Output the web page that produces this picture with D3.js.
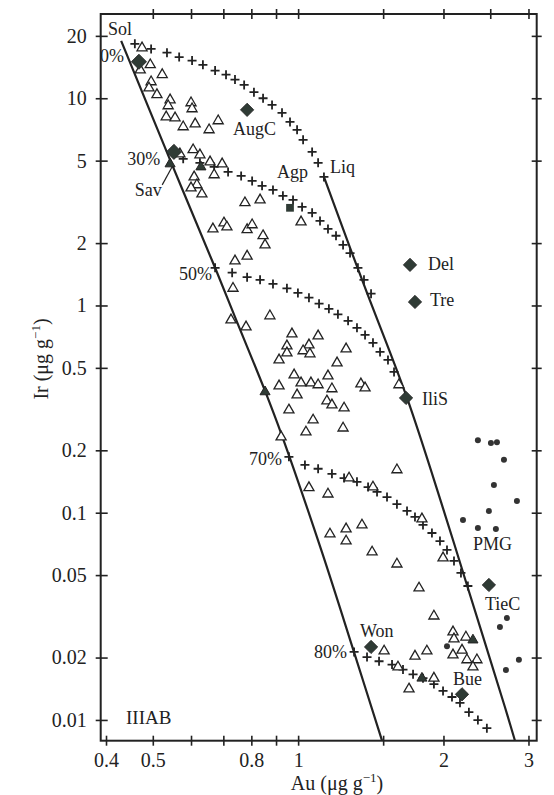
<!DOCTYPE html>
<html>
<head>
<meta charset="utf-8">
<script src="https://cdn.jsdelivr.net/npm/d3@7"></script>
<style>
body { margin: 0; background: #fff; }
text { font-family: "Liberation Serif", "DejaVu Serif", serif; fill: #222; }
</style>
</head>
<body>
<svg id="chart" width="554" height="795"></svg>
<script>
// solidus / liquidus lines (Au, Ir)
var solidus = [[0.43,18.9],[0.543,5.04],[0.673,1.52],[0.747,0.833],[0.854,0.387],[0.926,0.235],[1.12,0.0647],[1.305,0.0213],[1.492,0.00794]];
var liquidus = [[1.131,4.17],[1.293,1.79],[1.389,1.15],[1.681,0.358],[1.996,0.105],[2.237,0.0448],[2.681,0.01155],[2.813,0.00794]];

// crystallization trends (crosses)
var trend0 = [[0.459,18.3],[0.496,17.3],[0.535,16.6],[0.567,15.8],[0.603,15.2],[0.635,14.5],[0.673,13.6],[0.709,13.0],[0.740,12.3],[0.773,11.6],[0.810,10.7],[0.846,10.0],[0.883,9.29],[0.926,8.50],[0.962,7.69],[0.995,7.04],[1.024,6.30],[1.069,5.51],[1.10,4.88],[1.131,4.17]];
var trend30 = [[0.578,5.10],[0.626,4.88],[0.670,4.66],[0.716,4.41],[0.762,4.22],[0.803,3.99],[0.842,3.78],[0.887,3.61],[0.930,3.38],[0.976,3.23],[1.019,2.99],[1.069,2.80],[1.110,2.56],[1.153,2.34],[1.198,2.17],[1.239,1.96],[1.281,1.79],[1.330,1.52],[1.369,1.33],[1.416,1.14]];
var trend50 = [[0.673,1.52],[0.730,1.44],[0.784,1.37],[0.834,1.33],[0.887,1.27],[0.948,1.21],[0.999,1.15],[1.053,1.09],[1.105,1.02],[1.158,0.963],[1.209,0.906],[1.269,0.843],[1.324,0.780],[1.376,0.721],[1.429,0.660],[1.478,0.597],[1.535,0.546],[1.580,0.478]];
var trend70 = [[0.957,0.186],[1.033,0.170],[1.10,0.163],[1.175,0.154],[1.245,0.147],[1.324,0.141],[1.396,0.133],[1.457,0.126],[1.528,0.119],[1.602,0.110],[1.681,0.102],[1.746,0.0954],[1.814,0.0873],[1.893,0.0798],[1.967,0.0730],[2.034,0.0661],[2.103,0.0585],[2.174,0.0512],[2.247,0.0443]];
var trend80 = [[1.306,0.0213],[1.389,0.0201],[1.471,0.0192],[1.565,0.0185],[1.649,0.0175],[1.730,0.0166],[1.814,0.0159],[1.911,0.0149],[1.996,0.0138],[2.083,0.0129],[2.164,0.0121],[2.258,0.0109],[2.357,0.00998],[2.460,0.00913]];

// IIIAB irons (open triangles)
var openTriangles = [
  [0.475,17.5],[0.494,14.5],[0.471,13.7],[0.523,13.0],[0.496,12.0],[0.491,11.2],[0.510,10.4],[0.543,9.82],[0.538,9.19],[0.600,9.50],[0.603,8.89],[0.533,8.13],[0.556,8.04],[0.578,7.28],[0.612,7.52],[0.654,7.04],[0.683,7.78],
  [0.569,5.39],[0.606,5.64],[0.626,5.33],[0.657,4.93],[0.696,4.82],[0.670,4.27],[0.609,4.17],[0.617,3.82],[0.600,3.69],[0.632,3.45],[0.776,3.13],[0.834,3.23],[1.014,2.53],
  [0.666,2.34],[0.702,2.50],[0.712,2.39],[0.784,2.32],[0.803,2.45],[0.846,2.17],[0.854,1.96],[0.740,1.64],[0.784,1.73],[0.733,1.21],[0.726,0.852],[0.780,0.788],[0.874,0.891],
  [0.971,0.729],[1.10,0.713],[0.948,0.638],[1.053,0.645],[1.024,0.604],[0.948,0.590],[1.058,0.584],[1.257,0.617],[0.913,0.546],[1.204,0.528],[0.981,0.462],[1.153,0.457],[1.014,0.423],[1.063,0.423],[1.10,0.414],[1.175,0.396],[1.349,0.418],[1.376,0.400],[0.913,0.409],[0.995,0.370],[1.147,0.346],[1.175,0.331],[1.245,0.320],[0.957,0.313],[1.074,0.280],[1.038,0.245],[1.239,0.256],[0.922,0.232],[1.617,0.414],
  [1.602,0.161],[1.275,0.147],[1.429,0.133],[1.053,0.132],[1.153,0.123],[1.805,0.0933],[1.164,0.0789],[1.257,0.0835],[1.257,0.0730],[1.356,0.0872],[1.423,0.0646],[1.602,0.0565],[1.996,0.0605],[1.780,0.0433],[1.911,0.0317],[2.093,0.0266],[2.103,0.0246],[2.226,0.0251],[2.093,0.0206],[2.185,0.0217],[2.237,0.0195],[2.346,0.0195],[2.302,0.0180],[1.848,0.0215],[1.746,0.0203],[1.507,0.0215],[1.610,0.0180],[1.911,0.0159],[1.697,0.0141]
];
var filledTriangles = [[0.543,4.82],[0.629,4.66],[0.854,0.383],[2.302,0.0243],[1.805,0.0159]];

// named meteorites (diamonds), Agp (square), pallasites (dots)
var diamonds = [[0.468,15.0],[0.553,5.51],[0.784,8.79],[1.705,1.57],[1.746,1.04],[1.673,0.358],[2.484,0.0448],[1.416,0.0225],[2.185,0.0133]];
var squares = [[0.962,2.96]];
var pmgDots = [[2.357,0.224],[2.508,0.217],[2.581,0.219],[2.669,0.180],[2.544,0.136],[2.839,0.114],[2.484,0.102],[2.195,0.0922],[2.357,0.0844],[2.568,0.0835],[2.707,0.0310],[2.618,0.0281],[2.034,0.0227],[2.866,0.0195],[2.694,0.0174]];

// labels: text, anchor point (Au, Ir), text-anchor
var labelText = ["Sol","0%","30%","50%","70%","80%","AugC","Agp","Liq","Sav","Del","Tre","IliS","PMG","TieC","Won","Bue","IIIAB"];
var labelAt = [[0.404,20.2],[0.436,15.0],[0.518,4.77],[0.663,1.33],[0.926,0.170],[1.263,0.0199],[0.733,6.66],[0.904,4.13],[1.164,4.36],[0.459,3.38],[1.857,1.48],[1.875,0.996],[1.805,0.331],[2.302,0.0661],[2.438,0.0339],[1.343,0.0251],[2.093,0.0147],[0.440,0.00954]];
var labelAnchor = ["start","end","end","end","end","end","start","start","start","start","start","start","start","start","start","start","start","start"];
var savPointer = [[0.523,3.82],[0.548,4.66]];

// axis ticks
var xTicksBottom = [0.4,0.5,0.6,0.7,0.8,0.9,1,1.5,2,3];
var xTicksTop = [0.5,0.6,0.7,0.8,0.9,1,1.5,2,2.5,3];
var xTickLabels = [0.4,0.5,0.8,1,2,3];
var yTicks = [20,10,5,2,1,0.5,0.2,0.1,0.05,0.02,0.01];

var plotL = 100.7, plotR = 536.7, plotT = 14, plotB = 740.7;
var ink = "#222", dark = "#2f3b35";

var svg = d3.select("#chart");

var x = d3.scaleLog().domain([0.39, 3.12]).range([plotL, plotR]);
var y = d3.scaleLog().domain([0.00794, 25.5]).range([plotB, plotT]);

// frame
svg.append("rect")
  .attr("x", plotL).attr("y", plotT)
  .attr("width", plotR - plotL).attr("height", plotB - plotT)
  .attr("fill", "none").attr("stroke", ink).attr("stroke-width", 2);

// ticks crossing the frame
function fmt(d) { return xTickLabels.indexOf(d) >= 0 ? String(d) : ""; }

var bAxis = svg.append("g").attr("transform", "translate(0," + plotB + ")")
  .call(d3.axisBottom(x).tickValues(xTicksBottom).tickFormat(fmt).tickSize(5).tickPadding(7));
var tAxis = svg.append("g").attr("transform", "translate(0," + plotT + ")")
  .call(d3.axisTop(x).tickValues(xTicksTop).tickFormat("").tickSize(5));
var lAxis = svg.append("g").attr("transform", "translate(" + plotL + ",0)")
  .call(d3.axisLeft(y).tickValues(yTicks).tickFormat(function(d) { return String(d); }).tickSize(5).tickPadding(9));
var rAxis = svg.append("g").attr("transform", "translate(" + plotR + ",0)")
  .call(d3.axisRight(y).tickValues(yTicks).tickFormat("").tickSize(5));

[bAxis, tAxis, lAxis, rAxis].forEach(function(g) {
  g.select(".domain").remove();
  g.selectAll(".tick line").attr("stroke", ink).attr("stroke-width", 1.6);
  g.selectAll(".tick text").attr("font-size", 20).attr("font-family", "Liberation Serif").attr("fill", ink);
});
bAxis.selectAll(".tick line").attr("y1", -5);
tAxis.selectAll(".tick line").attr("y1", 5);
lAxis.selectAll(".tick line").attr("x1", 7);
rAxis.selectAll(".tick line").attr("x1", -5);

// solidus and liquidus
var line = d3.line()
  .x(function(d) { return x(d[0]); })
  .y(function(d) { return y(d[1]); })
  .curve(d3.curveCatmullRom);

[solidus, liquidus].forEach(function(s) {
  svg.append("path").datum(s)
    .attr("d", line)
    .attr("fill", "none").attr("stroke", ink).attr("stroke-width", 2.2);
});

svg.append("path").datum(savPointer)
  .attr("d", d3.line().x(function(d) { return x(d[0]); }).y(function(d) { return y(d[1]); }))
  .attr("stroke", ink).attr("stroke-width", 1.2);

// crosses
var crossPath = "M-4.5,0H4.5M0,-4.5V4.5";
[trend0, trend30, trend50, trend70, trend80].forEach(function(t) {
  svg.append("g").selectAll("path")
    .data(t)
    .enter().append("path")
    .attr("transform", function(d) { return "translate(" + x(d[0]) + "," + y(d[1]) + ")"; })
    .attr("d", crossPath)
    .attr("stroke", ink).attr("stroke-width", 1.8);
});

// triangles
var tri = d3.symbol().type(d3.symbolTriangle).size(44);
svg.append("g").selectAll("path")
  .data(openTriangles)
  .enter().append("path")
  .attr("transform", function(d) { return "translate(" + x(d[0]) + "," + y(d[1]) + ")"; })
  .attr("d", tri)
  .attr("fill", "#fff").attr("stroke", ink).attr("stroke-width", 1.3);

svg.append("g").selectAll("path")
  .data(filledTriangles)
  .enter().append("path")
  .attr("transform", function(d) { return "translate(" + x(d[0]) + "," + y(d[1]) + ")"; })
  .attr("d", tri)
  .attr("fill", dark).attr("stroke", ink).attr("stroke-width", 1);

// pallasite dots
svg.append("g").selectAll("circle")
  .data(pmgDots)
  .enter().append("circle")
  .attr("cx", function(d) { return x(d[0]); })
  .attr("cy", function(d) { return y(d[1]); })
  .attr("r", 3)
  .attr("fill", "#333");

// diamonds (the 0% and 30% ones are drawn larger) and square
svg.append("g").selectAll("path")
  .data(diamonds)
  .enter().append("path")
  .attr("transform", function(d) { return "translate(" + x(d[0]) + "," + y(d[1]) + ") rotate(45)"; })
  .attr("d", function(d, i) { return d3.symbol().type(d3.symbolSquare).size(i < 2 ? 115 : 88)(); })
  .attr("fill", dark).attr("stroke", ink).attr("stroke-width", 0.8);

svg.append("g").selectAll("path")
  .data(squares)
  .enter().append("path")
  .attr("transform", function(d) { return "translate(" + x(d[0]) + "," + y(d[1]) + ")"; })
  .attr("d", d3.symbol().type(d3.symbolSquare).size(60))
  .attr("fill", dark);

// labels
svg.append("g").selectAll("text")
  .data(labelText)
  .enter().append("text")
  .attr("x", function(d, i) { return x(labelAt[i][0]); })
  .attr("y", function(d, i) { return y(labelAt[i][1]); })
  .attr("text-anchor", function(d, i) { return labelAnchor[i]; })
  .attr("font-size", function(d, i) { return i === 17 ? 19 : 18; })
  .text(function(d) { return d; });

// axis titles
var xt = svg.append("text")
  .attr("x", 337).attr("y", 790)
  .attr("text-anchor", "middle").attr("font-size", 20);
xt.append("tspan").text("Au (\u03bcg g");
xt.append("tspan").attr("font-size", 13).attr("dy", -8).text("\u22121");
xt.append("tspan").attr("dy", 8).text(")");

var yt = svg.append("text")
  .attr("transform", "translate(48,359) rotate(-90)")
  .attr("text-anchor", "middle").attr("font-size", 20);
yt.append("tspan").text("Ir (\u03bcg g");
yt.append("tspan").attr("font-size", 13).attr("dy", -8).text("\u22121");
yt.append("tspan").attr("dy", 8).text(")");
</script>
</body>
</html>
